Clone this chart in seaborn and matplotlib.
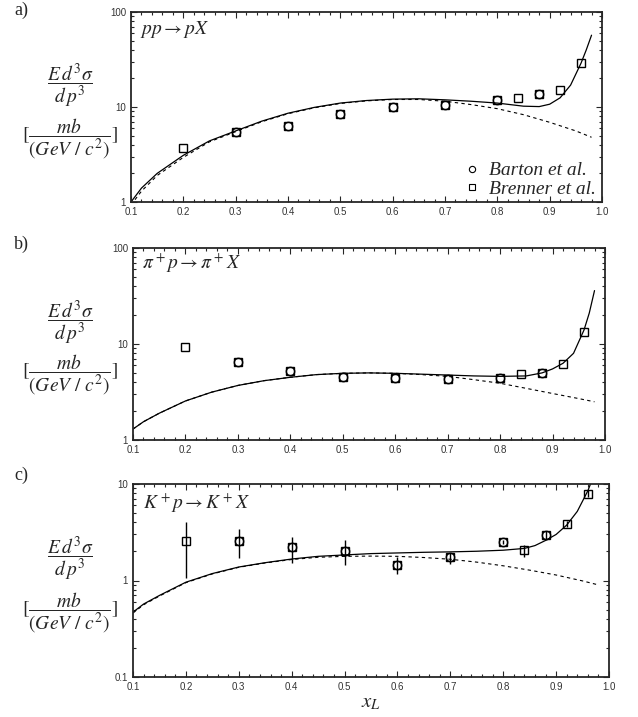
import matplotlib
matplotlib.use('Agg')
import matplotlib.pyplot as plt
import matplotlib.ticker as mticker
import seaborn as sns
import pandas as pd

# ---- panel a) pp -> pX ----
a_x_solid = [0.10, 0.12, 0.15, 0.20, 0.25, 0.30, 0.35, 0.40, 0.45, 0.50, 0.55, 0.60, 0.65,
             0.70, 0.75, 0.80, 0.85, 0.88, 0.90, 0.92, 0.94, 0.96, 0.97, 0.98]
a_y_solid = [1.0, 1.4, 2.0, 3.1, 4.4, 5.6, 7.1, 8.6, 9.9, 11.0, 11.7, 12.1, 12.2,
             11.9, 11.5, 11.0, 10.2, 10.1, 10.7, 12.5, 17.0, 29.0, 40.0, 57.0]
a_x_dash = [0.10, 0.12, 0.15, 0.20, 0.25, 0.30, 0.35, 0.40, 0.45, 0.50, 0.55, 0.60, 0.65,
            0.70, 0.75, 0.80, 0.85, 0.90, 0.95, 0.98]
a_y_dash = [0.93, 1.3, 1.9, 2.95, 4.3, 5.5, 7.0, 8.5, 9.8, 10.9, 11.6, 12.0, 12.0,
            11.5, 10.6, 9.6, 8.3, 6.9, 5.6, 4.8]
a_x_brenner = [0.2, 0.3, 0.4, 0.5, 0.6, 0.7, 0.8, 0.84, 0.88, 0.92, 0.96]
a_y_brenner = [3.7, 5.5, 6.3, 8.4, 10.0, 10.5, 11.9, 12.4, 13.7, 15.1, 29.0]
a_x_barton = [0.3, 0.4, 0.5, 0.6, 0.7, 0.8, 0.88]
a_y_barton = [5.5, 6.3, 8.4, 10.0, 10.5, 11.9, 13.7]

# ---- panel b) pi+ p -> pi+ X ----
b_x_solid = [0.10, 0.12, 0.15, 0.20, 0.25, 0.30, 0.35, 0.40, 0.45, 0.50, 0.55, 0.60, 0.65,
             0.70, 0.75, 0.80, 0.85, 0.88, 0.90, 0.92, 0.94, 0.96, 0.97, 0.98]
b_y_solid = [1.3, 1.55, 1.9, 2.55, 3.15, 3.7, 4.15, 4.5, 4.8, 4.95, 5.0, 4.95, 4.85,
             4.75, 4.65, 4.6, 4.65, 5.0, 5.5, 6.3, 8.0, 14.0, 21.0, 36.0]
b_x_dash = [0.10, 0.12, 0.15, 0.20, 0.25, 0.30, 0.35, 0.40, 0.45, 0.50, 0.55, 0.60, 0.65,
            0.70, 0.75, 0.80, 0.85, 0.90, 0.95, 0.98]
b_y_dash = [1.3, 1.55, 1.9, 2.55, 3.15, 3.7, 4.15, 4.5, 4.8, 4.95, 5.0, 4.95, 4.8,
            4.6, 4.25, 3.9, 3.45, 3.05, 2.7, 2.5]
b_x_brenner = [0.2, 0.3, 0.4, 0.5, 0.6, 0.7, 0.8, 0.84, 0.88, 0.92, 0.96]
b_y_brenner = [9.3, 6.5, 5.2, 4.5, 4.4, 4.3, 4.4, 4.9, 5.0, 6.2, 13.3]
b_x_barton = [0.3, 0.4, 0.5, 0.6, 0.7, 0.8, 0.88]
b_y_barton = [6.5, 5.2, 4.5, 4.4, 4.3, 4.4, 5.0]

# ---- panel c) K+ p -> K+ X ----
c_x_solid = [0.10, 0.12, 0.15, 0.20, 0.25, 0.30, 0.35, 0.40, 0.45, 0.50, 0.55, 0.60, 0.65,
             0.70, 0.75, 0.80, 0.84, 0.86, 0.88, 0.90, 0.92, 0.94, 0.96, 0.965]
c_y_solid = [0.47, 0.57, 0.70, 0.96, 1.18, 1.38, 1.53, 1.67, 1.78, 1.84, 1.90, 1.93, 1.96,
             1.98, 2.01, 2.06, 2.15, 2.3, 2.6, 3.0, 3.75, 5.2, 8.5, 10.0]
c_x_dash = [0.10, 0.12, 0.15, 0.20, 0.25, 0.30, 0.35, 0.40, 0.45, 0.50, 0.55, 0.60, 0.65,
            0.70, 0.75, 0.80, 0.85, 0.90, 0.95, 0.98]
c_y_dash = [0.46, 0.56, 0.69, 0.95, 1.17, 1.37, 1.52, 1.65, 1.74, 1.78, 1.79, 1.78, 1.73,
            1.66, 1.55, 1.42, 1.28, 1.14, 0.99, 0.90]
c_x_brenner = [0.2, 0.3, 0.4, 0.5, 0.6, 0.7, 0.8, 0.84, 0.88, 0.92, 0.96]
c_y_brenner = [2.57, 2.57, 2.22, 2.02, 1.45, 1.75, 2.5, 2.07, 2.95, 3.85, 7.9]
c_y_low = [1.06, 1.71, 1.52, 1.45, 1.17, 1.48, 2.4, 1.75, 2.69, 3.6, 7.3]
c_y_high = [4.04, 3.4, 2.82, 2.63, 1.75, 1.93, 2.6, 2.33, 3.26, 4.1, 8.6]
c_x_barton = [0.3, 0.4, 0.5, 0.6, 0.7, 0.8, 0.88]
c_y_barton = [2.57, 2.22, 2.02, 1.45, 1.75, 2.5, 2.95]

sns.set_style('ticks')
plt.rcParams['mathtext.fontset'] = 'stix'
plt.rcParams['font.family'] = ['Liberation Sans', 'DejaVu Sans']

fig = plt.figure(figsize=(6.38, 7.17), dpi=100)
W, H = 638, 717


def add_ax(l, t, r, b):
    return fig.add_axes([l / W, 1 - b / H, (r - l) / W, (b - t) / H])


axes = [add_ax(131, 12, 602, 202), add_ax(133, 248, 605, 440), add_ax(133, 484, 609, 677)]
ylims = [(1, 100), (1, 100), (0.1, 10)]
panels = [
    (a_x_solid, a_y_solid, a_x_dash, a_y_dash, a_x_brenner, a_y_brenner, a_x_barton, a_y_barton),
    (b_x_solid, b_y_solid, b_x_dash, b_y_dash, b_x_brenner, b_y_brenner, b_x_barton, b_y_barton),
    (c_x_solid, c_y_solid, c_x_dash, c_y_dash, c_x_brenner, c_y_brenner, c_x_barton, c_y_barton),
]
titles = [r'$pp \rightarrow pX$', r'$\pi^+p \rightarrow \pi^+X$', r'$K^+p \rightarrow K^+X$']
title_y = [0.91, 0.92, 0.90]

for ax, ylim, p, title, ty in zip(axes, ylims, panels, titles, title_y):
    xs, ys, xd, yd, xb, yb, xc, yc = p
    sol = pd.DataFrame({'x': xs, 'y': ys})
    das = pd.DataFrame({'x': xd, 'y': yd})
    sns.lineplot(data=sol, x='x', y='y', ax=ax, color='k', lw=0.9, estimator=None, sort=False)
    sns.lineplot(data=das, x='x', y='y', ax=ax, color='k', lw=0.8, estimator=None, sort=False,
                 dashes=False, linestyle=(0, (3, 3)))
    ax.plot(xc, yc, 'o', ms=6, mfc='none', mec='k', mew=1.0, label='Barton et al.')
    ax.plot(xb, yb, 's', ms=6.3, mfc='none', mec='k', mew=1.0, label='Brenner et al.')

    ax.set_yscale('log')
    ax.set_xlim(0.1, 1.0)
    ax.set_ylim(*ylim)
    ax.set_xlabel('')
    ax.set_ylabel('')
    ax.xaxis.set_major_locator(mticker.MultipleLocator(0.1))
    ax.xaxis.set_minor_locator(mticker.MultipleLocator(0.02))
    ax.xaxis.set_major_formatter(mticker.FormatStrFormatter('%.1f'))
    ax.yaxis.set_major_formatter(mticker.FuncFormatter(lambda v, pos: '%g' % v))
    ax.yaxis.set_minor_formatter(mticker.NullFormatter())
    ax.tick_params(which='both', direction='in', top=True, right=True, labelsize=7,
                   labelcolor='#333333', width=0.8)
    ax.tick_params(which='major', length=4)
    ax.tick_params(which='minor', length=2.5)
    for s in ax.spines.values():
        s.set_linewidth(1.3)
    ax.text(0.02, ty, title, transform=ax.transAxes, fontsize=14, va='center', ha='left')

# error bars on panel c
c_err = [[v - lo for v, lo in zip(c_y_brenner, c_y_low)],
         [hi - v for v, hi in zip(c_y_brenner, c_y_high)]]
axes[2].errorbar(c_x_brenner, c_y_brenner, yerr=c_err, fmt='none', ecolor='k', elinewidth=1.0, capsize=0)

leg = axes[0].legend(loc='lower right', bbox_to_anchor=(1.012, -0.04), frameon=False,
                     handletextpad=0.4, borderaxespad=0.2, labelspacing=0.05, handlelength=1.0,
                     markerscale=0.75,
                     prop={'family': 'Liberation Serif', 'style': 'italic', 'size': 14})
for h in leg.legend_handles:
    h.set_markeredgewidth(0.8)

# panel letters and y labels
for lab, yl in zip(['a)', 'b)', 'c)'], [10, 244, 475]):
    fig.text(14 / W, 1 - yl / H, lab, fontsize=13, family='Liberation Serif', va='center', ha='left')

for y1, y2 in [(86, 139), (323, 375), (559, 613)]:
    fig.text(70 / W, 1 - y1 / H, r'$\dfrac{E\,d^3\sigma}{d\,p^3}$', ha='center', va='center', fontsize=14)
    fig.text(70 / W, 1 - y2 / H, r'$[\dfrac{mb}{(GeV\ /\ c^2)}]$', ha='center', va='center', fontsize=14)

fig.text(371 / W, 1 - 702 / H, r'$x_L$', ha='center', va='center', fontsize=15)

fig.savefig('out.png', dpi=100)
